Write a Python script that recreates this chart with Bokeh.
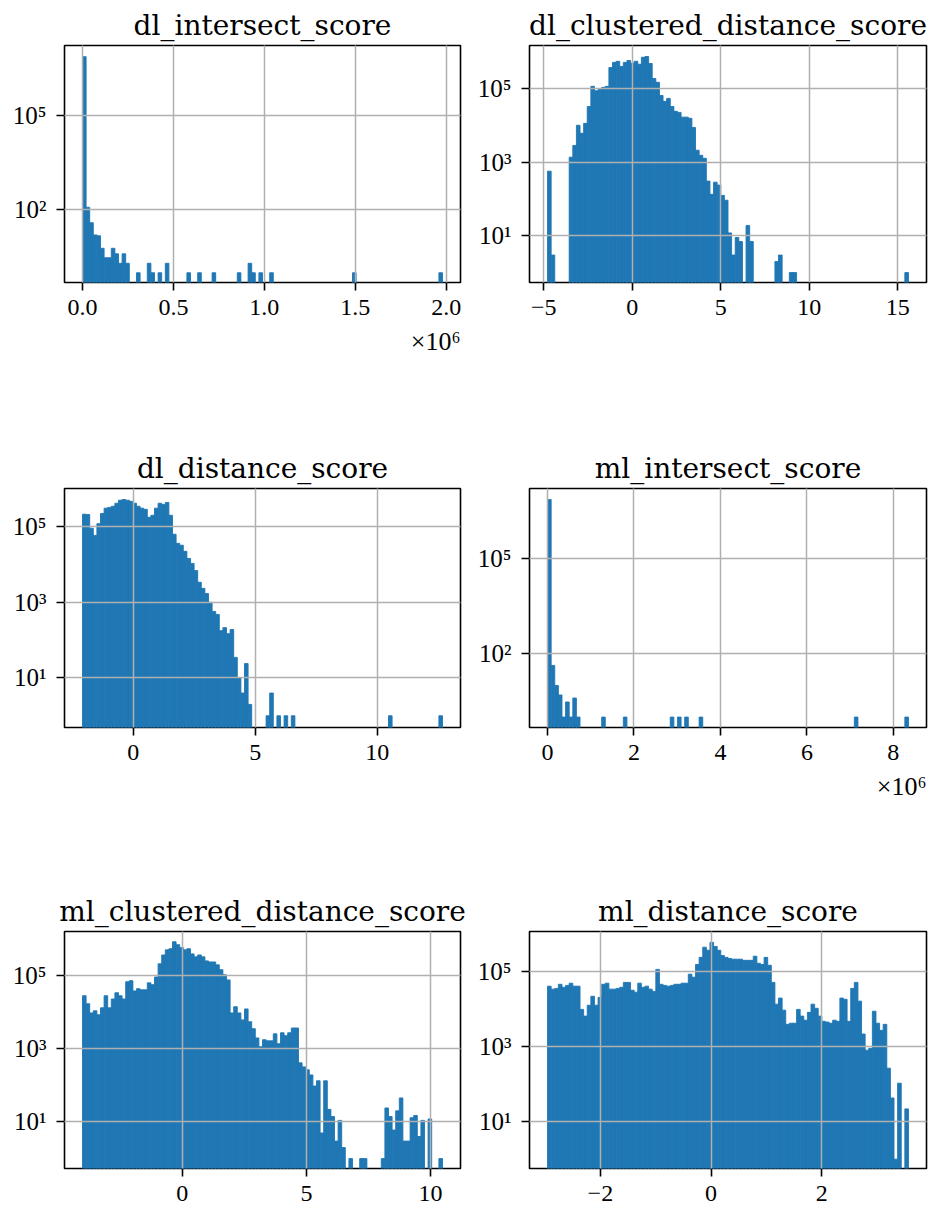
import numpy as np
from bokeh.plotting import figure
from bokeh.layouts import column, row
from bokeh.models import (ColumnDataSource, Range1d, FixedTicker, Title,
                          CustomJSTickFormatter)
from bokeh.embed import file_html
from bokeh.resources import INLINE

# ---------------- data (100-bin histograms, counts) ----------
titles = ["dl_intersect_score", "dl_clustered_distance_score",
          "dl_distance_score", "ml_intersect_score",
          "ml_clustered_distance_score", "ml_distance_score"]

# value range [min, max] of each column (bins span this range)
dl_intersect_range = [0.0, 1.98e6]
dl_clustered_range = [-4.78, 15.6]
dl_distance_range = [-2.08, 12.68]
ml_intersect_range = [0.0, 8.35e6]
ml_clustered_range = [-4.02, 10.48]
ml_distance_range = [-2.955, 3.568]

dl_intersect_counts = [
    7500000, 121, 39, 16, 15, 6, 3, 3, 6, 4,
    2, 4, 2, 0, 0, 1, 0, 0, 2, 1,
    0, 1, 0, 2, 0, 0, 0, 0, 0, 1,
    0, 0, 1, 0, 0, 0, 1, 0, 0, 0,
    0, 0, 0, 1, 0, 0, 2, 1, 0, 1,
    0, 0, 1, 0, 0, 0, 0, 0, 0, 0,
    0, 0, 0, 0, 0, 0, 0, 0, 0, 0,
    0, 0, 0, 0, 0, 1, 0, 0, 0, 0,
    0, 0, 0, 0, 0, 0, 0, 0, 0, 0,
    0, 0, 0, 0, 0, 0, 0, 0, 0, 1]

dl_clustered_counts = [
    575, 3, 0, 0, 0, 0, 1380, 2880, 10200, 6170,
    11500, 33100, 117000, 89100, 95500, 110000, 117000, 380000, 525000, 562000,
    407000, 525000, 589000, 501000, 562000, 468000, 724000, 759000, 490000, 191000,
    151000, 66100, 45700, 55000, 33100, 24500, 22900, 17000, 17000, 15800,
    8900, 2140, 1550, 1290, 309, 135, 288, 240, 126, 93,
    12, 3, 9, 7, 0, 19, 7, 0, 0, 0,
    0, 0, 0, 2, 3, 0, 0, 1, 1, 0,
    0, 0, 0, 0, 0, 0, 0, 0, 0, 0,
    0, 0, 0, 0, 0, 0, 0, 0, 0, 0,
    0, 0, 0, 0, 0, 0, 0, 0, 0, 1]

dl_distance_counts = [
    214000, 210000, 91200, 58900, 120000, 224000, 309000, 324000, 347000, 417000,
    501000, 525000, 501000, 468000, 417000, 347000, 309000, 288000, 178000, 200000,
    309000, 417000, 389000, 437000, 200000, 63100, 36300, 32400, 22400, 14500,
    10700, 6900, 3390, 2340, 1700, 1000, 575, 479, 178, 214,
    148, 191, 35, 10, 4, 24, 2, 0, 0, 0,
    0, 1, 4, 0, 1, 0, 1, 0, 1, 0,
    0, 0, 0, 0, 0, 0, 0, 0, 0, 0,
    0, 0, 0, 0, 0, 0, 0, 0, 0, 0,
    0, 0, 0, 0, 0, 1, 0, 0, 0, 0,
    0, 0, 0, 0, 0, 0, 0, 0, 0, 1]

ml_intersect_counts = [
    7600000, 43, 10, 5, 1, 3, 1, 4, 1, 0,
    0, 0, 0, 0, 0, 1, 0, 0, 0, 0,
    0, 1, 0, 0, 0, 0, 0, 0, 0, 0,
    0, 0, 0, 0, 1, 0, 1, 0, 1, 0,
    0, 0, 1, 0, 0, 0, 0, 0, 0, 0,
    0, 0, 0, 0, 0, 0, 0, 0, 0, 0,
    0, 0, 0, 0, 0, 0, 0, 0, 0, 0,
    0, 0, 0, 0, 0, 0, 0, 0, 0, 0,
    0, 0, 0, 0, 0, 1, 0, 0, 0, 0,
    0, 0, 0, 0, 0, 0, 0, 0, 0, 1]

ml_clustered_counts = [
    27500, 16600, 9330, 10700, 8320, 12900, 27500, 12900, 22400, 33100,
    27500, 22400, 66100, 70800, 37200, 42700, 39800, 39800, 61700, 55000,
    89100, 204000, 355000, 490000, 525000, 813000, 676000, 562000, 490000, 525000,
    380000, 316000, 355000, 316000, 245000, 229000, 229000, 191000, 141000, 102000,
    74100, 9330, 13800, 9330, 6030, 12000, 5370, 3470, 1950, 1120,
    1740, 1620, 1620, 2510, 1350, 2690, 2240, 2690, 3630, 3630,
    407, 316, 263, 191, 95, 132, 5, 132, 22, 14,
    3, 11, 2, 0, 1, 0, 0, 1, 1, 0,
    0, 0, 0, 1, 24, 14, 6, 20, 45, 3,
    3, 13, 15, 4, 11, 0, 12, 0, 0, 1]

ml_distance_counts = [
    41700, 34700, 36300, 46800, 38900, 43700, 50100, 41700, 41700, 10000,
    6610, 12900, 22400, 12900, 20900, 46800, 50100, 34700, 34700, 36300,
    38900, 52500, 52500, 32400, 28800, 50100, 38900, 41700, 34700, 30200,
    117000, 46800, 43700, 41700, 43700, 46800, 46800, 50100, 50100, 87100,
    72400, 158000, 245000, 457000, 380000, 617000, 479000, 380000, 275000, 245000,
    229000, 219000, 219000, 219000, 204000, 204000, 204000, 263000, 170000, 158000,
    245000, 151000, 52500, 13800, 20000, 9550, 3980, 4270, 4270, 10000,
    6610, 5130, 8320, 13800, 10700, 6610, 4790, 4570, 4270, 5130,
    4790, 20000, 18600, 4790, 36300, 52500, 16600, 2190, 813, 912,
    8910, 4270, 2750, 3980, 269, 43, 1, 107, 0, 22]

x_scales = [1e6, 1, 1, 1e6, 1, 1]
x_ticks = [[0, 0.5, 1.0, 1.5, 2.0], [-5, 0, 5, 10, 15], [0, 5, 10],
           [0, 2, 4, 6, 8], [0, 5, 10], [-2, 0, 2]]
x_decimals = [1, 0, 0, 0, 0, 0]
y_ticks = [[1e2, 1e5], [1e1, 1e3, 1e5], [1e1, 1e3, 1e5],
           [1e2, 1e5], [1e1, 1e3, 1e5], [1e1, 1e3, 1e5]]
y_log_limits = [[-0.31, 7.23], [-0.27, 6.18], [-0.31, 6.01],
                [-0.33, 7.23], [-0.27, 6.19], [-0.25, 6.08]]

ranges = [dl_intersect_range, dl_clustered_range, dl_distance_range,
          ml_intersect_range, ml_clustered_range, ml_distance_range]
counts_all = [dl_intersect_counts, dl_clustered_counts, dl_distance_counts,
              ml_intersect_counts, ml_clustered_counts, ml_distance_counts]

BAR = "#1f77b4"
TITLE_FONT = "DejaVu Serif"
TICK_FONT = "Liberation Serif"

# layout (pixels)
COL_W = 467
ROW_SPECS = [  # (height, top border, bottom border)
    (443, 45, 161),
    (443, 45, 159),
    (324, 45, 42),
]
COL_BORDERS = [(64, 7), (62, 8)]

Y_FMT = """
const sup = {"0":"\u2070","1":"\u00b9","2":"\u00b2","3":"\u00b3","4":"\u2074",
             "5":"\u2075","6":"\u2076","7":"\u2077","8":"\u2078","9":"\u2079","-":"\u207b"};
const e = Math.round(Math.log10(tick)).toString();
let s = "";
for (const ch of e) { s += sup[ch]; }
return "10" + s;
"""


def make_panel(i):
    r, c = divmod(i, 2)
    h, bt, bb = ROW_SPECS[r]
    bl, br = COL_BORDERS[c]
    lo, hi = ranges[i]
    sc = x_scales[i]
    counts = np.array(counts_all[i], dtype=float)
    n = len(counts)
    edges = np.linspace(lo, hi, n + 1) / sc
    mask = counts > 0
    src = ColumnDataSource(dict(
        left=edges[:-1][mask], right=edges[1:][mask],
        top=counts[mask], bottom=np.full(int(mask.sum()), 1e-3)))
    span = (hi - lo) / sc
    pad = 0.05 * span
    ylo, yhi = y_log_limits[i]
    p = figure(width=COL_W, height=h, y_axis_type="log",
               x_range=Range1d(lo / sc - pad, hi / sc + pad),
               y_range=Range1d(10 ** ylo, 10 ** yhi),
               output_backend="svg", toolbar_location=None,
               min_border_left=bl, min_border_right=br,
               min_border_top=bt, min_border_bottom=bb)
    p.quad(left="left", right="right", top="top", bottom="bottom", source=src,
           fill_color=BAR, line_color=BAR, line_width=0.9)

    p.title.text = titles[i]
    p.title.align = "center"
    p.title.text_font = TITLE_FONT
    p.title.text_font_size = "28px"
    p.title.text_font_style = "normal"
    p.title.text_color = "black"
    p.title.standoff = 7

    p.outline_line_color = "black"
    p.outline_line_width = 1.6
    p.background_fill_color = "white"
    p.border_fill_color = "white"

    for ax in (p.xaxis[0], p.yaxis[0]):
        ax.axis_line_color = None
        ax.major_tick_line_color = "black"
        ax.major_tick_line_width = 1.6
        ax.major_tick_out = 8
        ax.major_tick_in = 0
        ax.minor_tick_line_color = None
        ax.major_label_text_font = TICK_FONT
        ax.major_label_text_color = "black"

    p.xaxis.major_label_text_font_size = "24px"
    p.yaxis.major_label_text_font_size = "25px"
    p.xaxis.ticker = FixedTicker(ticks=x_ticks[i])
    d = x_decimals[i]
    p.xaxis.formatter = CustomJSTickFormatter(
        code="return tick.toFixed(%d).replace('-', '\\u2212');" % d)
    p.xaxis.major_label_standoff = 9
    p.yaxis.ticker = FixedTicker(ticks=y_ticks[i])
    p.yaxis.formatter = CustomJSTickFormatter(code=Y_FMT)
    p.yaxis.major_label_standoff = 10

    p.grid.grid_line_color = "#b0b0b0"
    p.grid.grid_line_width = 1.5
    p.grid.level = "overlay"
    p.xgrid.ticker = FixedTicker(ticks=x_ticks[i])
    p.ygrid.ticker = FixedTicker(ticks=y_ticks[i])

    if sc != 1:
        t = Title(text="\u00d710\u2076", align="right", text_font=TICK_FONT,
                  text_font_size="26px", text_font_style="normal",
                  text_color="black", standoff=14)
        p.add_layout(t, "below")
    return p


panels = [make_panel(i) for i in range(6)]
layout = column(row(panels[0], panels[1]), row(panels[2], panels[3]),
                row(panels[4], panels[5]))

with open("out.html", "w") as f:
    f.write(file_html(layout, INLINE))
